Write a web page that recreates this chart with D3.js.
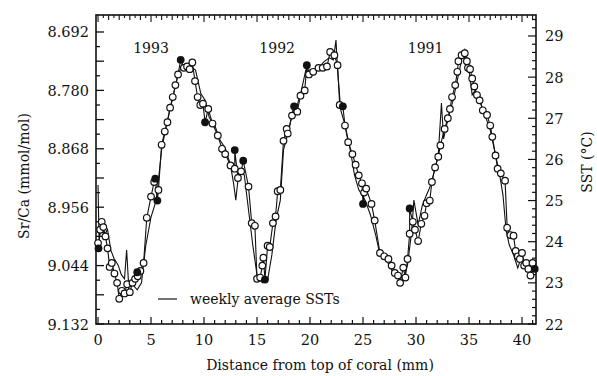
<!DOCTYPE html>
<html>
<head>
<meta charset="utf-8">
<script src="https://cdn.jsdelivr.net/npm/d3@7"></script>
<style>
  body { margin: 0; background: #fff; }
</style>
</head>
<body>
<script>
//---->DATA<-----//
// Sr/Ca samples, open circles: [distance mm, Sr/Ca mmol/mol]
const srcaOpen = [
  [0.0, 9.010], [0.2, 8.990], [0.35, 8.978], [0.5, 8.986], [0.7, 9.000], [0.9, 9.018],
  [1.1, 9.046], [1.3, 9.040], [1.55, 9.056], [1.8, 9.070], [2.0, 9.094], [2.25, 9.082],
  [2.5, 9.086], [2.75, 9.072], [3.0, 9.084], [3.25, 9.070], [3.5, 9.064], [3.75, 9.060],
  [4.0, 9.052], [4.3, 9.040], [4.6, 8.972], [5.0, 8.940], [5.3, 8.918], [5.7, 8.930],
  [6.0, 8.862], [6.3, 8.842], [6.55, 8.828], [6.8, 8.806], [7.05, 8.790], [7.3, 8.772],
  [7.55, 8.756], [8.1, 8.746], [8.4, 8.744], [8.65, 8.748], [8.9, 8.738], [9.15, 8.766],
  [9.4, 8.790], [9.65, 8.802], [9.9, 8.800], [10.4, 8.808], [10.8, 8.830], [11.3, 8.848],
  [11.7, 8.868], [12.0, 8.876], [12.5, 8.893], [12.9, 8.898], [13.2, 8.912], [13.5, 8.902],
  [14.2, 8.925], [14.5, 8.980], [14.8, 8.984], [15.0, 9.064], [15.3, 9.062], [15.5, 9.044],
  [15.6, 9.032], [16.0, 9.014], [16.2, 9.016], [16.5, 8.980], [16.75, 8.970], [16.95, 8.932],
  [17.2, 8.930], [17.5, 8.856], [17.8, 8.838], [17.9, 8.845], [18.3, 8.818], [18.8, 8.812],
  [19.1, 8.788], [19.5, 8.780], [19.9, 8.756], [20.3, 8.752], [20.8, 8.746], [21.2, 8.746],
  [21.6, 8.744], [21.9, 8.722], [22.3, 8.727], [22.6, 8.742], [22.8, 8.802], [23.3, 8.833],
  [23.6, 8.858], [24.0, 8.876], [24.3, 8.892], [24.6, 8.908], [24.9, 8.920], [25.1, 8.934],
  [25.3, 8.928], [25.8, 8.951], [26.1, 8.976], [26.6, 9.025], [27.0, 9.030], [27.4, 9.034],
  [27.7, 9.044], [28.0, 9.055], [28.3, 9.059], [28.5, 9.070], [28.8, 9.047], [29.0, 9.062],
  [29.2, 9.034], [29.4, 8.996], [29.7, 8.978], [29.9, 8.990], [30.2, 9.007], [30.5, 8.981],
  [30.8, 8.969], [31.0, 8.950], [31.3, 8.946], [31.5, 8.918], [31.8, 8.896], [32.1, 8.880],
  [32.3, 8.863], [32.7, 8.838], [33.0, 8.822], [33.2, 8.808], [33.4, 8.790], [33.7, 8.772],
  [33.9, 8.752], [34.0, 8.736], [34.3, 8.727], [34.6, 8.724], [34.8, 8.736], [34.9, 8.746],
  [35.1, 8.748], [35.3, 8.762], [35.5, 8.774], [35.75, 8.787], [36.0, 8.795], [36.3, 8.810],
  [36.7, 8.817], [37.0, 8.833], [37.2, 8.850], [37.5, 8.878], [37.7, 8.898], [38.0, 8.905],
  [38.4, 8.916], [38.6, 8.987], [38.9, 8.998], [39.2, 8.999], [39.4, 9.022], [39.6, 9.030],
  [39.8, 9.034], [40.0, 9.025], [40.2, 9.044], [40.4, 9.040], [40.6, 9.049], [40.8, 9.059],
  [41.0, 9.040]
];

// Sr/Ca samples, filled circles
const srcaFilled = [
  [0.05, 9.018], [3.7, 9.054], [5.4, 8.913], [5.6, 8.946], [7.8, 8.734], [10.1, 8.828],
  [12.9, 8.870], [13.7, 8.886], [15.75, 9.065], [18.5, 8.804], [19.7, 8.742], [23.1, 8.804],
  [25.0, 8.951], [29.4, 8.958], [41.2, 9.049]
];

// weekly average SSTs: [distance mm, degC]
const sstWeekly = [
  [0.0, 25.38], [0.1, 24.04], [0.3, 24.41], [0.6, 24.16], [0.9, 24.30], [1.2, 23.80],
  [1.5, 23.60], [1.9, 23.43], [2.2, 23.20], [2.5, 23.10], [2.7, 23.80], [2.9, 22.90],
  [3.3, 22.95], [3.7, 22.83], [4.1, 23.00], [4.5, 23.90], [5.0, 24.60], [5.5, 25.01],
  [6.0, 26.23], [6.5, 26.90], [7.0, 27.44], [7.5, 28.00], [7.9, 28.30], [8.5, 28.30],
  [9.2, 28.17], [9.7, 27.60], [10.1, 27.44], [10.5, 27.01], [11.0, 26.84], [11.5, 26.47],
  [12.0, 26.28], [12.5, 25.86], [12.8, 25.40], [13.0, 25.01], [13.2, 25.50], [13.4, 25.74],
  [13.8, 25.62], [14.2, 24.77], [14.6, 23.92], [15.0, 23.19], [15.5, 23.00], [16.0, 23.07],
  [16.4, 23.68], [16.8, 24.53], [17.2, 25.01], [17.5, 26.23], [18.0, 26.72], [18.4, 27.20],
  [18.8, 27.32], [19.2, 27.69], [19.6, 28.17], [20.2, 28.17], [20.8, 28.22], [21.3, 28.37],
  [21.8, 28.47], [22.2, 28.42], [22.45, 28.90], [22.6, 28.17], [22.9, 27.20], [23.3, 26.84],
  [23.8, 26.23], [24.2, 25.62], [24.6, 25.26], [25.2, 25.01], [25.7, 24.65], [26.2, 24.16],
  [26.6, 23.68], [27.2, 23.56], [27.7, 23.31], [28.2, 23.19], [28.7, 23.00], [29.2, 23.43],
  [29.6, 24.28], [29.8, 25.01], [30.2, 24.41], [30.6, 24.89], [31.0, 25.14], [31.4, 25.38],
  [31.8, 25.79], [32.1, 26.11], [32.4, 27.37], [32.6, 26.50], [33.0, 26.96], [33.5, 27.44],
  [34.0, 28.05], [34.3, 28.42], [34.6, 28.66], [35.0, 28.17], [35.3, 27.57], [35.6, 27.69],
  [36.0, 27.44], [36.5, 27.08], [37.0, 26.72], [37.5, 26.11], [37.9, 25.62], [38.2, 25.14],
  [38.5, 24.28], [38.8, 23.92], [39.2, 23.68], [39.6, 23.36], [40.0, 23.68], [40.4, 23.31],
  [40.8, 23.51], [41.2, 23.51]
];

const years = [['1993', 5.0], ['1992', 16.9], ['1991', 30.9]];

const xTickLabels = [0, 5, 10, 15, 20, 25, 30, 35, 40];
const srcaTickLabels = [8.692, 8.780, 8.868, 8.956, 9.044, 9.132];
const sstTickLabels = [22, 23, 24, 25, 26, 27, 28, 29];

const xDomain = [-0.19, 41.32];
const srcaDomain = [8.6664, 9.132];   // inverted: higher Sr/Ca lower down
const sstDomain = [22, 29.51];

//---->LAYOUT<-----//
const outerW = 597,
    outerH = 376,
    margin = { left: 96, right: 61, top: 15, bottom: 52 },
    w = outerW - margin.left - margin.right,
    h = outerH - margin.top - margin.bottom;

const serif = 'DejaVu Serif';

let svg, g, x, ySr, ySst;

function setupScales() {
  x = d3.scaleLinear().domain(xDomain).range([0, w]);
  ySr = d3.scaleLinear().domain(srcaDomain).range([0, h]);
  ySst = d3.scaleLinear().domain(sstDomain).range([h, 0]);
}

function buildChart() {
  svg = d3.select('body').append('svg')
      .attr('width', outerW)
      .attr('height', outerH)
      .attr('font-family', serif)
      .attr('fill', '#111');

  g = svg.append('g')
      .attr('transform', 'translate(' + margin.left + ',' + margin.top + ')');

  const fmt3 = d3.format('.3f');

  // Bottom axis: 1 mm ticks pointing inward, labels every 5
  const bottomTicks = d3.range(0, 42, 1);
  g.append('g')
      .attr('transform', 'translate(0,' + h + ')')
      .selectAll('line').data(bottomTicks).enter().append('line')
      .attr('x1', d => x(d)).attr('x2', d => x(d))
      .attr('y1', 0).attr('y2', d => d % 5 === 0 ? -7 : -4)
      .attr('stroke', '#111').attr('stroke-width', 1.2);

  g.append('g').selectAll('text').data(xTickLabels).enter().append('text')
      .attr('x', d => x(d)).attr('y', h + 21)
      .attr('text-anchor', 'middle').attr('font-size', 14.5)
      .text(d => d);

  // Top axis: dense ticks pointing down
  const topTicks = d3.range(0, 41.5, 0.5);
  g.append('g').selectAll('line').data(topTicks).enter().append('line')
      .attr('x1', d => x(d)).attr('x2', d => x(d))
      .attr('y1', 0).attr('y2', d => d % 5 === 0 ? 7 : (d % 1 === 0 ? 5 : 3))
      .attr('stroke', '#111').attr('stroke-width', 1.1);

  // Left axis (Sr/Ca)
  const leftTicks = d3.range(0, 21).map(i => 8.692 + i * 0.022);
  g.append('g').selectAll('line').data(leftTicks).enter().append('line')
      .attr('x1', 0).attr('x2', (d, i) => i % 2 === 0 ? 8 : 4)
      .attr('y1', d => ySr(d)).attr('y2', d => ySr(d))
      .attr('stroke', '#111').attr('stroke-width', 1.3);

  g.append('g').selectAll('text').data(srcaTickLabels).enter().append('text')
      .attr('x', -7).attr('y', d => ySr(d) + 5.5)
      .attr('text-anchor', 'end').attr('font-size', 14.5)
      .text(d => fmt3(d));

  // Right axis (SST)
  const rightTicks = d3.range(0, 38).map(i => 22 + i * 0.2);
  g.append('g').selectAll('line').data(rightTicks).enter().append('line')
      .attr('x1', w).attr('x2', (d, i) => i % 5 === 0 ? w - 8 : w - 4)
      .attr('y1', d => ySst(d)).attr('y2', d => ySst(d))
      .attr('stroke', '#111').attr('stroke-width', 1.2);

  g.append('g').selectAll('text').data(sstTickLabels).enter().append('text')
      .attr('x', w + 9).attr('y', d => ySst(d) + 5.5)
      .attr('font-size', 14.5)
      .text(d => d);

  // Frame
  g.append('rect')
      .attr('width', w).attr('height', h)
      .attr('fill', 'none').attr('stroke', '#111').attr('stroke-width', 1.6);

  // Weekly SST line
  const sstLine = d3.line()
      .x(d => x(d[0]))
      .y(d => ySst(d[1]));

  g.append('path')
      .datum(sstWeekly)
      .attr('d', sstLine)
      .attr('fill', 'none').attr('stroke', '#111').attr('stroke-width', 1.1);

  // Sr/Ca line through all samples
  const allSr = srcaOpen.concat(srcaFilled).sort((a, b) => a[0] - b[0]);
  const srLine = d3.line()
      .x(d => x(d[0]))
      .y(d => ySr(d[1]));

  g.append('path')
      .datum(allSr)
      .attr('d', srLine)
      .attr('fill', 'none').attr('stroke', '#111').attr('stroke-width', 1.1);

  // Sr/Ca dots
  g.selectAll('.open-dot')
      .data(srcaOpen)
      .enter().append('circle')
      .attr('class', 'open-dot')
      .attr('cx', d => x(d[0]))
      .attr('cy', d => ySr(d[1]))
      .attr('r', 3.3)
      .style('fill', '#fff').style('stroke', '#111').style('stroke-width', 1.2);

  g.selectAll('.filled-dot')
      .data(srcaFilled)
      .enter().append('circle')
      .attr('class', 'filled-dot')
      .attr('cx', d => x(d[0]))
      .attr('cy', d => ySr(d[1]))
      .attr('r', 3.9)
      .style('fill', '#111');

  // Year annotations
  g.selectAll('.year')
      .data(years)
      .enter().append('text')
      .attr('class', 'year')
      .attr('x', d => x(d[1]))
      .attr('y', 38)
      .attr('text-anchor', 'middle')
      .attr('font-size', 14)
      .text(d => d[0]);

  // Legend
  const legend = g.append('g').attr('transform', 'translate(62,284)');
  legend.append('line')
      .attr('x1', 0).attr('x2', 19).attr('y1', 0).attr('y2', 0)
      .attr('stroke', '#111').attr('stroke-width', 1.2);
  legend.append('text')
      .attr('x', 32).attr('y', 5)
      .attr('font-size', 14)
      .text('weekly average SSTs');

  // Axis titles
  svg.append('text')
      .attr('x', 320).attr('y', 370)
      .attr('text-anchor', 'middle').attr('font-size', 14)
      .text('Distance from top of coral (mm)');

  svg.append('text')
      .attr('transform', 'translate(29,176) rotate(-90)')
      .attr('text-anchor', 'middle').attr('font-size', 14)
      .text('Sr/Ca (mmol/mol)');

  svg.append('text')
      .attr('transform', 'translate(592,162) rotate(-90)')
      .attr('text-anchor', 'middle').attr('font-size', 14)
      .text('SST (°C)');
}

setupScales();
buildChart();
</script>
</body>
</html>
